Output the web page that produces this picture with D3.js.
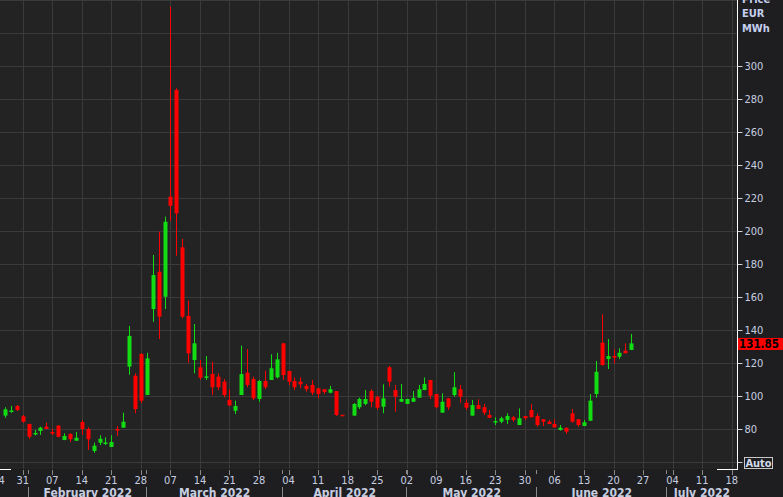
<!DOCTYPE html>
<html><head><meta charset="utf-8">
<script src="https://cdn.jsdelivr.net/npm/d3@7"></script>
<style>
html,body{margin:0;padding:0;background:#1e1e21;overflow:hidden;}
svg{display:block;}
text{font-family:"DejaVu Sans Condensed","DejaVu Sans",sans-serif;font-stretch:condensed;}
</style></head><body>
<svg id="chart" width="783" height="497"></svg>
<script>
// ---- data (TTF gas, EUR/MWh, daily OHLC) ----
const dates = [
 "2022-01-26","2022-01-27","2022-01-28",
 "2022-01-31","2022-02-01","2022-02-02","2022-02-03","2022-02-04",
 "2022-02-07","2022-02-08","2022-02-09","2022-02-10","2022-02-11",
 "2022-02-14","2022-02-15","2022-02-16","2022-02-17","2022-02-18",
 "2022-02-21","2022-02-22","2022-02-23","2022-02-24","2022-02-25",
 "2022-02-28","2022-03-01","2022-03-02","2022-03-03","2022-03-04",
 "2022-03-07","2022-03-08","2022-03-09","2022-03-10","2022-03-11",
 "2022-03-14","2022-03-15","2022-03-16","2022-03-17","2022-03-18",
 "2022-03-21","2022-03-22","2022-03-23","2022-03-24","2022-03-25",
 "2022-03-28","2022-03-29","2022-03-30","2022-03-31","2022-04-01",
 "2022-04-04","2022-04-05","2022-04-06","2022-04-07","2022-04-08",
 "2022-04-11","2022-04-12","2022-04-13","2022-04-14","2022-04-15",
 "2022-04-18","2022-04-19","2022-04-20","2022-04-21","2022-04-22",
 "2022-04-25","2022-04-26","2022-04-27","2022-04-28","2022-04-29",
 "2022-05-02","2022-05-03","2022-05-04","2022-05-05","2022-05-06",
 "2022-05-09","2022-05-10","2022-05-11","2022-05-12","2022-05-13",
 "2022-05-16","2022-05-17","2022-05-18","2022-05-19","2022-05-20",
 "2022-05-23","2022-05-24","2022-05-25","2022-05-26","2022-05-27",
 "2022-05-30","2022-05-31","2022-06-01","2022-06-02","2022-06-03",
 "2022-06-06","2022-06-07","2022-06-08","2022-06-09","2022-06-10",
 "2022-06-13","2022-06-14","2022-06-15","2022-06-16","2022-06-17",
 "2022-06-20","2022-06-21","2022-06-22","2022-06-23"
];
const open = [
 88.1, 90.8, 93.9,
 87.7, 83.0, 77.2, 78.8, 81.4,
 78.2, 82.0, 73.3, 77.0, 72.9,
 84.2, 80.0, 66.7, 71.7, 71.5,
 69.1, 80.0, 80.8, 117.8, 112.3,
 125.5, 100.6, 152.7, 175.3, 160.2,
 220.8, 285.5, 190.1, 148.5, 121.8,
 117.4, 111.3, 113.3, 111.7, 108.7,
 97.6, 91.1, 100.6, 114.1, 110.3,
 98.2, 109.1, 109.7, 111.3, 131.9,
 115.2, 109.1, 108.7, 106.1, 106.7,
 104.7, 104.1, 102.0, 103.0, 88.6,
 null, 88.1, 93.2, 95.2, 103.0,
 99.6, 93.5, 117.4, 103.6, 96.5,
 95.2, 96.5, 99.0, 103.6, 109.7,
 101.2, 89.9, 98.6, 100.6, 104.1,
 95.9, 88.1, 94.5, 93.2, 88.5,
 84.1, 84.4, 85.5, 87.1, 82.4,
 87.9, 91.5, 87.9, 85.9, 84.4,
 83.0, 79.4, 80.8, 89.5, 85.9,
 81.8, 85.0, 101.2, 132.3, 122.4,
 124.2, 123.8, 127.5, 127.9
];
const high = [
 93.2, 94.0, 94.5,
 88.5, 83.2, 79.4, 81.4, 83.8,
 80.2, 82.4, 77.4, 77.4, 78.2,
 85.5, 81.0, 71.7, 76.2, 75.0,
 76.2, 81.8, 89.9, 142.4, 113.8,
 126.0, 126.2, 185.5, 199.6, 208.7,
 336.0, 286.5, 195.2, 157.8, 143.6,
 121.8, 124.2, 120.8, 113.8, 110.3,
 104.1, 97.2, 130.5, 128.5, 111.7,
 109.7, 115.3, 125.3, 126.2, 132.3,
 115.2, 111.3, 111.3, 107.3, 109.7,
 104.7, 104.1, 106.1, 103.0, 88.6,
 null, 95.6, 99.0, 103.6, 104.1,
 100.0, 107.1, 118.2, 106.7, 107.3,
 98.2, 103.0, 106.7, 111.3, 109.7,
 101.2, 101.6, 98.6, 114.4, 106.7,
 98.0, 97.6, 98.0, 95.2, 91.5,
 87.1, 87.5, 89.5, 87.9, 92.5,
 87.9, 95.2, 89.5, 85.9, 85.5,
 85.9, 82.4, 80.8, 92.1, 85.9,
 85.5, 101.2, 121.2, 149.5, 134.5,
 128.3, 128.9, 131.9, 137.6
];
const low = [
 86.8, 89.9, 90.9,
 83.8, 74.1, 76.2, 76.4, 80.0,
 76.4, 75.0, 73.3, 72.1, 72.9,
 76.4, 67.3, 65.6, 70.3, 70.3,
 69.1, 75.8, 80.8, 112.9, 89.5,
 95.6, 100.6, 145.0, 134.5, 152.7,
 206.2, 185.0, 147.1, 120.2, 113.8,
 109.7, 109.7, 100.6, 103.6, 99.2,
 93.9, 89.1, 100.6, 105.3, 97.6,
 96.5, 104.1, 109.7, 110.7, 109.7,
 106.7, 103.6, 104.7, 102.6, 100.6,
 98.6, 101.2, 101.6, 87.9, 88.4,
 null, 88.1, 92.1, 94.4, 93.2,
 91.5, 89.5, 105.6, 90.5, 96.5,
 95.2, 96.5, 99.0, 103.6, 98.2,
 92.5, 89.9, 91.5, 99.6, 95.9,
 91.5, 88.1, 92.1, 88.5, 86.8,
 82.4, 83.5, 83.0, 84.4, 82.4,
 85.5, 87.1, 81.4, 81.8, 83.0,
 81.0, 79.0, 77.0, 83.8, 81.4,
 81.8, 85.0, 99.0, 118.4, 116.4,
 119.8, 122.4, 125.9, 127.9
];
const close = [
 91.9, 91.2, 91.5,
 84.4, 75.3, 77.6, 80.8, 80.0,
 77.2, 75.3, 75.8, 73.8, 74.7,
 80.0, 73.8, 69.9, 74.1, 71.8,
 72.1, 79.4, 84.4, 136.4, 92.1,
 97.2, 122.8, 173.3, 148.1, 205.6,
 215.3, 210.7, 148.1, 125.9, 131.9,
 111.1, 111.9, 105.3, 105.3, 100.6,
 94.3, 93.9, 113.3, 106.7, 98.6,
 109.1, 105.3, 116.8, 122.2, 112.7,
 108.7, 105.3, 107.1, 104.1, 102.0,
 101.2, 102.4, 104.1, 88.5, 88.4,
 null, 95.2, 98.2, 98.2, 96.5,
 92.9, 98.6, 108.7, 99.6, 98.2,
 98.2, 98.8, 104.1, 107.3, 100.2,
 93.2, 96.5, 93.2, 105.3, 99.6,
 92.9, 94.5, 92.1, 89.9, 86.8,
 84.8, 86.5, 87.9, 85.5, 86.5,
 86.5, 87.1, 82.4, 84.4, 83.0,
 81.0, 80.8, 78.4, 84.4, 82.4,
 84.1, 97.2, 114.7, 118.8, 124.2,
 123.2, 126.2, 125.9, 131.85
];
const yTickValues = [60, 80, 100, 120, 140, 160, 180, 200, 220, 240, 260, 280, 300];
const yGridValues = [60, 80, 100, 120, 140, 160, 180, 200, 220, 240, 260, 280, 300, 320, 340];
const axisStart = "2022-01-24";   // first Monday of the axis
const axisEnd = "2022-07-22";
const unitLines = ["Price", "EUR", "MWh"];
const lastPrice = 131.85;

// ---- layout ----
const W = 783, H = 497;
const plotR = 737, plotB = 469;
const parse = d3.utcParse("%Y-%m-%d");
const base = parse(axisStart);
function wd(d) { // weekday (trading-day) index from base Monday
  const days = Math.round((d - base) / 864e5);
  return Math.floor(days / 7) * 5 + (days % 7);
}
const x = d3.scaleLinear().domain([5, 125]).range([22.7, 731.7]);
const y = d3.scaleLinear().domain([100, 300]).range([396, 66]);

const svg = d3.select("#chart");
svg.append("rect").attr("width", W).attr("height", H).attr("fill", "#1e1e21");
svg.append("rect").attr("width", plotR).attr("height", plotB).attr("fill", "#232323");
svg.append("defs").append("clipPath").attr("id", "clip")
  .append("rect").attr("width", plotR).attr("height", plotB);

// all weekday dates on axis
const allDays = d3.utcDay.range(base, d3.utcDay.offset(parse(axisEnd), 1))
  .filter(d => d.getUTCDay() !== 0 && d.getUTCDay() !== 6);
const mondays = allDays.filter(d => d.getUTCDay() === 1);
const monthStarts = allDays.filter((d, i) => i > 0 && d.getUTCMonth() !== allDays[i - 1].getUTCMonth());

const grid = svg.append("g").attr("clip-path", "url(#clip)");
grid.selectAll("line.h").data(yGridValues).join("line")
  .attr("x1", 0).attr("x2", plotR)
  .attr("y1", d => Math.round(y(d)) + 0.5).attr("y2", d => Math.round(y(d)) + 0.5)
  .attr("stroke", "#3a3a3a").attr("stroke-width", 1);
grid.selectAll("line.v").data(mondays).join("line")
  .attr("x1", d => Math.round(x(wd(d))) + 0.5).attr("x2", d => Math.round(x(wd(d))) + 0.5)
  .attr("y1", 0).attr("y2", plotB)
  .attr("stroke", "#3a3a3a").attr("stroke-width", 1);

// candles
const candles = dates.map((s, i) => ({
  d: parse(s), o: open[i], h: high[i], l: low[i], c: close[i]
})).filter(k => k.o != null);
const up = "#12dc12", down = "#ff0000";
const cg = svg.append("g").attr("clip-path", "url(#clip)");
const cs = cg.selectAll("g").data(candles).join("g");
cs.append("line")
  .attr("x1", k => Math.round(x(wd(k.d))) + 0.5)
  .attr("x2", k => Math.round(x(wd(k.d))) + 0.5)
  .attr("y1", k => y(k.h)).attr("y2", k => y(k.l))
  .attr("stroke", k => k.c >= k.o ? up : down).attr("stroke-width", 1);
cs.append("rect")
  .attr("x", k => Math.round(x(wd(k.d))) - 1.5)
  .attr("width", 4)
  .attr("y", k => y(Math.max(k.o, k.c)))
  .attr("height", k => Math.max(1.5, Math.abs(y(k.o) - y(k.c))))
  .attr("fill", k => k.c >= k.o ? up : down);

// right axis
svg.append("line").attr("x1", plotR + 0.5).attr("x2", plotR + 0.5)
  .attr("y1", 0).attr("y2", plotB + 1).attr("stroke", "#ffffff");
const yAxis = svg.append("g").attr("transform", `translate(${plotR + 0.5},0)`)
  .call(d3.axisRight(y).tickValues(yTickValues).tickSize(5).tickPadding(2)
    .tickFormat(d => d === 60 ? "" : d));
yAxis.select(".domain").remove();
yAxis.selectAll(".tick line").attr("stroke", "#d0d0d0");
yAxis.selectAll(".tick text").attr("fill", "#c7cee0")
  .attr("font-size", 11).attr("font-family", null);

// unit label
svg.append("g").selectAll("text").data(unitLines).join("text")
  .attr("x", 742).attr("y", (d, i) => 3 + i * 14.3)
  .attr("fill", "#c4d0ee").attr("font-size", 11).attr("font-weight", "bold")
  .text(d => d);

// last price tag
svg.append("rect").attr("x", plotR + 1).attr("y", y(lastPrice) - 5.5)
  .attr("width", W - plotR - 1).attr("height", 12).attr("fill", "#ff0000");
svg.append("text").attr("x", 739).attr("y", y(lastPrice) + 4.5)
  .attr("fill", "#000").attr("font-size", 11.5).attr("font-weight", "bold")
  .text(lastPrice.toFixed(2));

// Auto box
svg.append("rect").attr("x", 744.5).attr("y", 457.5).attr("width", 28).attr("height", 11)
  .attr("fill", "#1e1e21").attr("stroke", "#c8c8c8");
svg.append("text").attr("x", 758.5).attr("y", 467).attr("text-anchor", "middle")
  .attr("fill", "#d4dbeb").attr("font-size", 11).attr("font-weight", "bold").text("Auto");

// bottom white segments
svg.append("line").attr("x1", 0).attr("x2", 11).attr("y1", plotB + 0.5).attr("y2", plotB + 0.5)
  .attr("stroke", "#ffffff");
svg.append("line").attr("x1", 717).attr("x2", plotR + 1).attr("y1", plotB + 0.5).attr("y2", plotB + 0.5)
  .attr("stroke", "#ffffff");

// x axis ticks & labels
const xa = svg.append("g");
xa.selectAll("line.t").data(mondays).join("line")
  .attr("x1", d => Math.round(x(wd(d))) + 0.5).attr("x2", d => Math.round(x(wd(d))) + 0.5)
  .attr("y1", 470).attr("y2", 475).attr("stroke", "#8a8a8a");
xa.selectAll("text.t").data(mondays).join("text")
  .attr("x", d => Math.max(x(wd(d)), -1.5)).attr("y", 484)
  .attr("text-anchor", "middle").attr("fill", "#c7cee0").attr("font-size", 11)
  .text(d3.utcFormat("%d"));
// month separators
xa.selectAll("line.m1").data(monthStarts).join("line")
  .attr("x1", d => Math.round(x(wd(d) - 0.05)) + 0.5).attr("x2", d => Math.round(x(wd(d) - 0.05)) + 0.5)
  .attr("y1", 470).attr("y2", 474).attr("stroke", "#8a8a8a");
xa.selectAll("line.m2").data(monthStarts).join("line")
  .attr("x1", d => Math.round(x(wd(d) - 0.05)) + 0.5).attr("x2", d => Math.round(x(wd(d) - 0.05)) + 0.5)
  .attr("y1", 487).attr("y2", 497).attr("stroke", "#8a8a8a");
// month labels
const monthSpans = monthStarts.map((d, i) => {
  const a = x(wd(d));
  const b = i + 1 < monthStarts.length ? x(wd(monthStarts[i + 1])) : plotR;
  return { d, cx: (a + b) / 2 };
});
xa.selectAll("text.m").data(monthSpans).join("text")
  .attr("x", m => m.cx).attr("y", 496.5).attr("text-anchor", "middle")
  .attr("fill", "#c7cee0").attr("font-size", 12).attr("font-weight", "bold")
  .text(m => d3.utcFormat("%B %Y")(m.d));
</script>
</body></html>
